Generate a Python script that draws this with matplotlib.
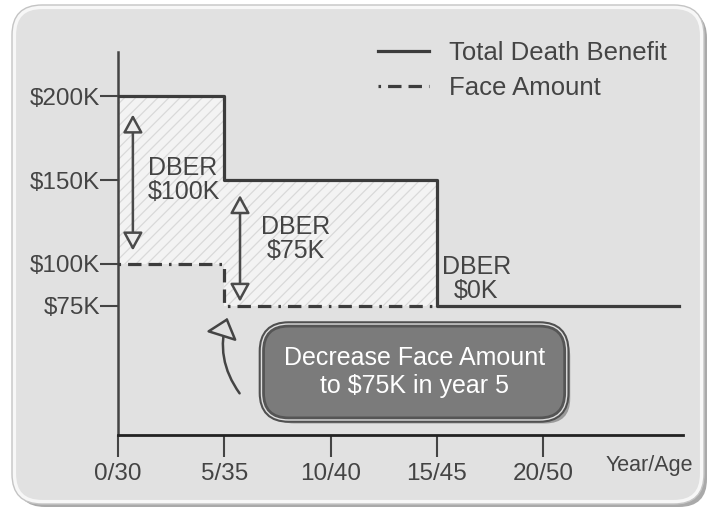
import matplotlib
matplotlib.use("Agg")
import matplotlib.pyplot as plt
import matplotlib.patheffects as pe
from matplotlib.patches import FancyBboxPatch

plt.rcParams['font.family'] = ['Liberation Sans', 'DejaVu Sans']
plt.rcParams['hatch.linewidth'] = 0.9

# Data
years = [0, 5, 15, 26.4]
total_benefit = [200, 150, 75, 75]        # $K
face_years = [0, 5, 15]
face_amount = [100, 75, 75]               # $K
fill_years = [0, 5, 15]
fill_top = [200, 150, 150]
fill_bottom = [100, 75, 75]

xticks = [0, 5, 10, 15, 20]
xlabels = ["0/30", "5/35", "10/40", "15/45", "20/50"]
yticks = [75, 100, 150, 200]
ylabels = ["$75K", "$100K", "$150K", "$200K"]

dber_labels = ["DBER\n$100K", "DBER\n$75K", "DBER\n$0K"]
dber_pos = [(1.4, 150), (8.35, 115), (16.85, 91)]
arrows = [(0.7, 189, 108), (5.74, 141, 77.5)]

W, H = 712, 516
fig = plt.figure(figsize=(W / 100, H / 100), dpi=100)
fig.patch.set_facecolor("white")

# background panel (pixel coords)
bg = fig.add_axes([0, 0, 1, 1], zorder=-1)
bg.set_xlim(0, W)
bg.set_ylim(H, 0)
bg.axis("off")
shadow = FancyBboxPatch((17, 10), 690, 497, boxstyle="round,pad=0,rounding_size=28",
                        fc="#a9a9a9", ec="none")
panel = FancyBboxPatch((14, 7), 688, 495, boxstyle="round,pad=0,rounding_size=28",
                       fc="#e1e1e1", ec="#f7f7f7", lw=3)
outline = FancyBboxPatch((12, 5), 692, 499, boxstyle="round,pad=0,rounding_size=30",
                         fc="none", ec="#c4c4c4", lw=1)
bg.add_patch(shadow)
bg.add_patch(panel)
bg.add_patch(outline)

# main axes
ax = fig.add_axes([118 / W, (H - 435) / H, (683 - 118) / W, (435 - 52) / H])
ax.set_facecolor("none")
ax.set_xlim(0, 26.58)
ax.set_ylim(-1.8, 226.2)

ax.fill_between(fill_years, fill_top, fill_bottom, step="post",
                facecolor="#f3f3f3", edgecolor="#d9d9d9", hatch="///", linewidth=0, zorder=1)

ax.step(years, total_benefit, where="post", color="#3c3c3c", lw=2.3,
        label="Total Death Benefit", zorder=3)
ax.step(face_years, face_amount, where="post", color="#3c3c3c", lw=2.3,
        linestyle=(0, (0.8, 2.2, 4.2, 2.2, 4.2, 2.2)), label="Face Amount", zorder=3)

for x, y0, y1 in arrows:
    ax.annotate("", xy=(x, y1), xytext=(x, y0),
                arrowprops=dict(arrowstyle="<|-|>,head_length=0.55,head_width=0.3",
                                fc="#ececec", ec="#4a4a4a", lw=1.8,
                                mutation_scale=20, shrinkA=0, shrinkB=0), zorder=4)

ax.text(dber_pos[0][0], dber_pos[0][1], dber_labels[0], ha="left", va="center",
        fontsize=18, color="#444444", linespacing=1.0, zorder=5)
for lab, (x, y) in zip(dber_labels[1:], dber_pos[1:]):
    ax.text(x, y, lab, ha="center", va="center", fontsize=18, color="#444444",
            linespacing=1.0, zorder=5)

# callout box
note = ax.text(13.93, 35.7, "Decrease Face Amount\nto $75K in year 5", ha="center", va="center",
               fontsize=18, color="white", linespacing=1.2, zorder=6,
               bbox=dict(boxstyle="round,pad=0.8,rounding_size=1.0", fc="#7b7b7b",
                         ec="#555555", lw=2))
note.get_bbox_patch().set_path_effects([
    pe.SimplePatchShadow(offset=(4, -4), shadow_rgbFace="#9a9a9a", alpha=1.0),
    pe.Stroke(linewidth=7, foreground="#505050"),
    pe.Stroke(linewidth=4, foreground="#dedede"),
    pe.Normal()])

# curved arrow pointing at the face amount change
ax.annotate("", xy=(5.15, 68), xytext=(5.72, 23),
            arrowprops=dict(arrowstyle="-|>,head_length=0.6,head_width=0.5",
                            connectionstyle="arc3,rad=-0.25", fc="#e1e1e1", ec="#444444",
                            lw=1.8, mutation_scale=20, shrinkA=0, shrinkB=0), zorder=4)

# axes styling
for s in ["top", "right"]:
    ax.spines[s].set_visible(False)
ax.spines["left"].set_color("#444444")
ax.spines["left"].set_linewidth(1.8)
ax.spines["bottom"].set_color("#222222")
ax.spines["bottom"].set_linewidth(2.0)

ax.set_xticks(xticks)
ax.set_xticklabels(xlabels)
ax.set_yticks(yticks)
ax.set_yticklabels(ylabels)
ax.tick_params(axis="x", direction="out", length=16, width=1.5, color="#444444",
               labelsize=17.5, labelcolor="#444444", pad=4)
ax.tick_params(axis="y", direction="out", length=13, width=1.5, color="#444444",
               labelsize=17.5, labelcolor="#444444", pad=0)

ax.text(25.0, -20, "Year/Age", ha="center", va="center", fontsize=15.5,
        color="#444444", clip_on=False)

leg = ax.legend(loc="upper left", bbox_to_anchor=(365 / W, 1 - 28 / H),
                bbox_transform=fig.transFigure, frameon=False, fontsize=18.5,
                handlelength=2.0, handletextpad=0.75, labelspacing=0.45, borderpad=0)
for t in leg.get_texts():
    t.set_color("#444444")

fig.savefig("out.png", dpi=100)
